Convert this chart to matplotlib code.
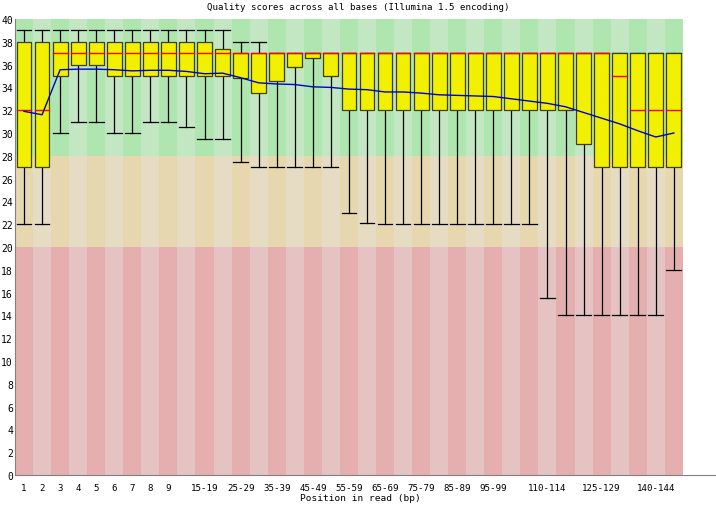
import matplotlib
matplotlib.use("Agg")
import matplotlib.pyplot as plt
from matplotlib.patches import Rectangle

# 位置类别
positions = ['1', '2', '3', '4', '5', '6', '7', '8', '9'] + \
    ['%d-%d' % (s, s + 4) for s in range(10, 150, 5)]

# 每个位置的统计量
whisker_high = [39, 39, 39, 39, 39, 39, 39, 39, 39, 39, 39, 39, 38, 38, 37, 37, 37, 37, 37,
                37, 37, 37, 37, 37, 37, 37, 37, 37, 37, 37, 37, 37, 37, 37, 37, 37, 37]
upper_q = [38, 38, 38, 38, 38, 38, 38, 38, 38, 38, 38, 37.4, 37, 37, 37, 37, 37, 37, 37,
           37, 37, 37, 37, 37, 37, 37, 37, 37, 37, 37, 37, 37, 37, 37, 37, 37, 37]
median = [32, 32, 37, 37, 37, 37, 37, 37, 37, 37, 37, 37, 37, 37, 37, 37, 37, 37, 37,
          37, 37, 37, 37, 37, 37, 37, 37, 37, 37, 37, 37, 37, 37, 35, 32, 32, 32]
lower_q = [27, 27, 35, 36, 36, 35, 35, 35, 35, 35, 35, 35, 34.8, 33.5, 34.6, 35.8, 36.6, 35, 32,
           32, 32, 32, 32, 32, 32, 32, 32, 32, 32, 32, 32, 29, 27, 27, 27, 27, 27]
whisker_low = [22, 22, 30, 31, 31, 30, 30, 31, 31, 30.5, 29.5, 29.5, 27.5, 27, 27, 27, 27, 27, 23,
               22.1, 22, 22, 22, 22, 22, 22, 22, 22, 22, 15.5, 14, 14, 14, 14, 14, 14, 18]
mean = [31.9, 31.6, 35.55, 35.6, 35.6, 35.55, 35.45, 35.5, 35.5, 35.4, 35.2, 35.25, 34.85, 34.4, 34.3,
        34.25, 34.05, 34.0, 33.85, 33.8, 33.6, 33.6, 33.5, 33.35, 33.3, 33.25, 33.2, 33.0, 32.8,
        32.6, 32.3, 31.8, 31.3, 30.8, 30.2, 29.65, 30.0]

shown_labels = [0, 1, 2, 3, 4, 5, 6, 7, 8, 10, 12, 14, 16, 18, 20, 22, 24, 26, 29, 32, 35]

plt.rcParams['font.family'] = ['DejaVu Sans Mono']

fig = plt.figure(figsize=(7.16, 5.10), dpi=100)
ax = fig.add_axes([15 / 716, 1 - 476 / 510, 701 / 716, 456 / 510])

n = len(positions)
# 背景条纹
bands = [(0, 20, '#e6c3c3', '#e6afaf'),
         (20, 28, '#e6dcc3', '#e6d7af'),
         (28, 40, '#c3e6c3', '#afe6af')]
for lo, hi, light, dark in bands:
    for i in range(n):
        ax.add_patch(Rectangle((i, lo), 1, hi - lo, color=dark if i % 2 == 0 else light,
                               lw=0, zorder=0))

w = 0.82
for i in range(n):
    c = i + 0.5
    ax.plot([c, c], [whisker_low[i], whisker_high[i]], color='black', lw=0.9, zorder=1)
    ax.plot([c - w / 2, c + w / 2], [whisker_low[i]] * 2, color='black', lw=0.9, zorder=1)
    ax.plot([c - w / 2, c + w / 2], [whisker_high[i]] * 2, color='black', lw=0.9, zorder=1)
    ax.add_patch(Rectangle((c - w / 2, lower_q[i]), w, upper_q[i] - lower_q[i],
                           facecolor='#f0f000', edgecolor='#404000', lw=0.9, zorder=2))
    ax.plot([c - w / 2, c + w / 2], [median[i]] * 2, color='red', lw=1, zorder=3)

ax.plot([i + 0.5 for i in range(n)], mean, color='#0000d0', lw=1, zorder=4)

ax.set_xlim(0, 701 / 18.05)
ax.set_ylim(0, 40)
ax.set_yticks(range(0, 41, 2))
ax.set_xticks([i + 0.5 for i in shown_labels])
ax.set_xticklabels([positions[i] for i in shown_labels])
ax.tick_params(axis='x', length=0, labelsize=6.6, pad=6)
ax.tick_params(axis='y', length=0, labelsize=7, pad=1.5)
for s in ['top', 'right']:
    ax.spines[s].set_visible(False)
for s in ['left', 'bottom']:
    ax.spines[s].set_color('#808080')

fig.text(0.5, 1 - 7 / 510, 'Quality scores across all bases (Illumina 1.5 encoding)',
         ha='center', va='center', fontsize=6.6)
fig.text(360 / 716, 1 - 499 / 510, 'Position in read (bp)', ha='center', va='center', fontsize=6.8)

fig.savefig('out.png', dpi=100)
